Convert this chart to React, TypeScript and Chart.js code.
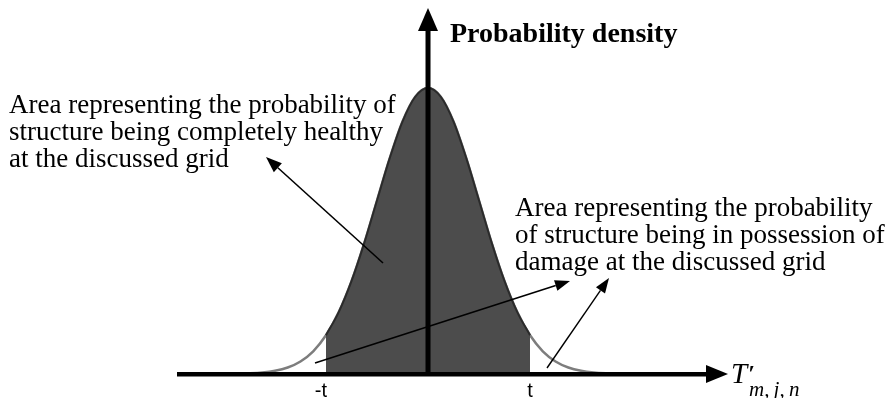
import React, { useEffect, useRef } from "react";
import { Chart, registerables } from "chart.js";

Chart.register(...registerables);

// Standardised variable T' (in units of its standard deviation)
const tValues = [
  -4, -3.75, -3.5, -3.25, -3, -2.75, -2.5, -2.25, -2, -1.75, -1.5, -1.25, -1, -0.75, -0.5, -0.25,
  0, 0.25, 0.5, 0.75, 1, 1.25, 1.5, 1.75, 2, 2.25, 2.5, 2.75, 3, 3.25, 3.5, 3.75, 4,
];

// Probability density of T' at each value above
const densityValues = [
  0.0001, 0.0004, 0.0009, 0.002, 0.0044, 0.0091, 0.0175, 0.0317, 0.054, 0.0863, 0.1295, 0.1826,
  0.242, 0.3011, 0.3521, 0.3867, 0.3989, 0.3867, 0.3521, 0.3011, 0.242, 0.1826, 0.1295, 0.0863,
  0.054, 0.0317, 0.0175, 0.0091, 0.0044, 0.002, 0.0009, 0.0004, 0.0001,
];

// Threshold t: the region -t..t is shaded
const threshold = 2;

// Extent of the drawn axes (data units)
const axisXRange = [-4.92, 5.88];
const axisYRange = [0, 0.5105];

const tickLabels = ["-t", "t"];

const leftNote = [
  "Area representing the probability of",
  "structure being completely healthy",
  "at the discussed grid",
];
const rightNote = [
  "Area representing the probability",
  "of structure being in possession of",
  "damage at the discussed grid",
];
const yAxisTitle = "Probability density";

const SERIF = "'Liberation Serif', 'Times New Roman', serif";
const SANS = "'Liberation Sans', Arial, sans-serif";

function arrow(
  ctx: CanvasRenderingContext2D,
  x1: number,
  y1: number,
  x2: number,
  y2: number,
  lineWidth: number,
  headLen: number,
  headHalf: number
) {
  const ang = Math.atan2(y2 - y1, x2 - x1);
  const bx = x2 - headLen * Math.cos(ang);
  const by = y2 - headLen * Math.sin(ang);
  ctx.save();
  ctx.strokeStyle = "#000";
  ctx.fillStyle = "#000";
  ctx.lineWidth = lineWidth;
  ctx.beginPath();
  ctx.moveTo(x1, y1);
  ctx.lineTo(bx, by);
  ctx.stroke();
  ctx.beginPath();
  ctx.moveTo(x2, y2);
  ctx.lineTo(bx + headHalf * Math.sin(ang), by - headHalf * Math.cos(ang));
  ctx.lineTo(bx - headHalf * Math.sin(ang), by + headHalf * Math.cos(ang));
  ctx.closePath();
  ctx.fill();
  ctx.restore();
}

const diagramOverlay = {
  id: "diagramOverlay",
  afterDatasetsDraw(chart: any) {
    const { ctx, chartArea, scales } = chart;
    const xs = scales.x;
    const ys = scales.y;
    const x0 = xs.getPixelForValue(0);
    const y0 = ys.getPixelForValue(0);

    ctx.save();
    // horizontal axis with arrow
    ctx.fillStyle = "#000";
    ctx.fillRect(chartArea.left, y0 - 2, chartArea.right - 21 - chartArea.left, 4.5);
    ctx.beginPath();
    ctx.moveTo(chartArea.right, y0);
    ctx.lineTo(chartArea.right - 22, y0 - 9);
    ctx.lineTo(chartArea.right - 22, y0 + 9);
    ctx.closePath();
    ctx.fill();

    // vertical axis with arrow
    ctx.fillRect(x0 - 2.5, chartArea.top + 21, 5, y0 - chartArea.top - 21);
    ctx.beginPath();
    ctx.moveTo(x0, chartArea.top);
    ctx.lineTo(x0 - 10, chartArea.top + 23);
    ctx.lineTo(x0 + 10, chartArea.top + 23);
    ctx.closePath();
    ctx.fill();

    // axis titles
    ctx.textAlign = "left";
    ctx.textBaseline = "alphabetic";
    ctx.font = `bold 28px ${SERIF}`;
    ctx.fillText(yAxisTitle, x0 + 22, 42);

    const tx = chartArea.right + 3;
    ctx.font = `italic 29px ${SERIF}`;
    ctx.fillText("T", tx, 383);
    ctx.font = `italic bold 24px ${SERIF}`;
    ctx.fillText("\u2032", tx + 17, 381);
    ctx.font = `italic 21px ${SERIF}`;
    ctx.fillText("m,\u2009j,\u2009n", tx + 18, 396);

    // threshold labels
    ctx.font = `20px ${SANS}`;
    ctx.textAlign = "center";
    ctx.fillText(tickLabels[0], xs.getPixelForValue(-threshold) - 5, 397);
    ctx.fillText(tickLabels[1], xs.getPixelForValue(threshold), 397);

    // notes
    ctx.textAlign = "left";
    ctx.font = `27px ${SERIF}`;
    leftNote.forEach((line, i) => ctx.fillText(line, 9, 113 + i * 27));
    rightNote.forEach((line, i) => ctx.fillText(line, 515, 216 + i * 27));
    ctx.restore();

    // pointers
    arrow(ctx, 383, 263, 266, 157, 1.6, 16, 6);
    arrow(ctx, 315, 363, 570, 281, 1.6, 15, 5.5);
    arrow(ctx, 547, 368, 609, 278, 1.4, 15, 5.5);
  },
};

export default function App() {
  const canvasRef = useRef<HTMLCanvasElement | null>(null);

  useEffect(() => {
    if (!canvasRef.current) return;
    const curve = tValues.map((x, i) => ({ x, y: densityValues[i] }));
    const shaded = curve.filter((p) => Math.abs(p.x) <= threshold);

    const chart = new Chart(canvasRef.current, {
      type: "line",
      data: {
        datasets: [
          {
            data: shaded,
            borderColor: "#2b2b2b",
            borderWidth: 2,
            backgroundColor: "#4c4c4c",
            fill: "origin",
            pointRadius: 0,
            cubicInterpolationMode: "monotone",
          },
          {
            data: curve,
            borderColor: "#7d7d7d",
            borderWidth: 2.5,
            fill: false,
            pointRadius: 0,
            cubicInterpolationMode: "monotone",
          },
        ],
      },
      options: {
        responsive: false,
        animation: false,
        events: [],
        layout: { autoPadding: false, padding: { left: 177, right: 165, top: 8, bottom: 24 } },
        plugins: { legend: { display: false }, tooltip: { enabled: false } },
        scales: {
          x: { type: "linear", min: axisXRange[0], max: axisXRange[1], display: false },
          y: { type: "linear", min: axisYRange[0], max: axisYRange[1], display: false },
        },
      },
      plugins: [diagramOverlay],
    });
    return () => chart.destroy();
  }, []);

  return (
    <div style={{ position: "absolute", left: 0, top: 0, width: 893, height: 398, background: "#fff" }}>
      <canvas ref={canvasRef} width={893} height={398} />
    </div>
  );
}
